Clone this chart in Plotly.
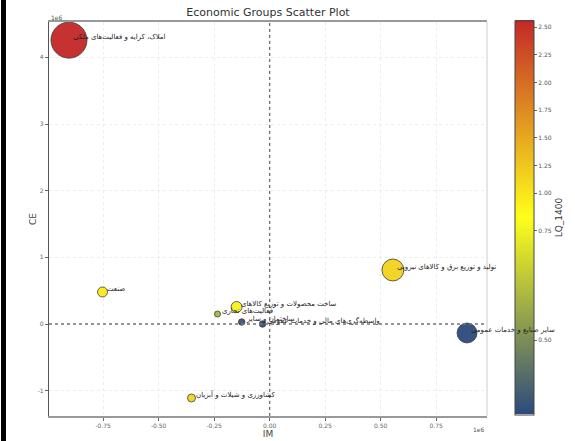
import plotly.graph_objects as go

# ---- data ----
labels = [
    "املاک، کرایه و فعالیت‌های ملکی",
    "صنعت",
    "ساخت محصولات و توزیع کالاهای",
    "فعالیت‌های تجاری",
    "ساختمان و سایر",
    "واسطه‌گری‌های مالی و خدمات عمومی",
    "تولید و توزیع برق و کالاهای نیرویی",
    "سایر صنایع و خدمات عمومی",
    "کشاورزی و شیلات و آبزیان",
]
im = [-904000, -753000, -149000, -235000, -126000, -32000, 555000, 889000, -352000]
ce = [4258000, 480000, 255000, 150000, 30000, 0, 810000, -135000, -1110000]
lq_1400 = [2.56, 0.95, 0.90, 0.60, 0.36, 0.35, 1.15, 0.33, 1.12]
employment = [130, 10, 12, 3.6, 4.2, 4.2, 48, 40, 6.4]

x_ticks = [-1.0e6, -0.75e6, -0.5e6, -0.25e6, 0.0, 0.25e6, 0.5e6, 0.75e6]
x_ticktext = ["-1.00", "-0.75", "-0.50", "-0.25", "0.00", "0.25", "0.50", "0.75"]
y_ticks = [-1e6, 0, 1e6, 2e6, 3e6, 4e6]
y_ticktext = ["-1", "0", "1", "2", "3", "4"]
cb_ticks = [0.50, 0.75, 1.00, 1.25, 1.50, 1.75, 2.00, 2.25, 2.50]

# ---- two-slope colour normalisation ----
vmin, vmax, vcenter = min(lq_1400), max(lq_1400), 0.78


def norm(v):
    if v < vcenter:
        return 0.5 * (v - vmin) / (vcenter - vmin)
    return 0.5 + 0.5 * (v - vcenter) / (vmax - vcenter)


cvals = [norm(v) for v in lq_1400]
cb_tickvals = [norm(v) for v in cb_ticks]
cb_ticktext = ["%.2f" % v for v in cb_ticks]

sizeref = 2 * max(employment) / (36 ** 2)

L, R, T, B = 49, 88, 22, 25
W, H = 575, 441
pw, ph = W - L - R, H - T - B

fig = go.Figure()
fig.add_trace(go.Scatter(
    x=im, y=ce, mode="markers",
    marker=dict(
        size=employment, sizemode="area", sizeref=sizeref,
        color=cvals, cmin=0, cmax=1,
        colorscale=[[0, "#2c4a7c"], [0.5, "#ffff1a"], [1, "#c32828"]],
        line=dict(color="#333333", width=0.8),
        opacity=0.95,
        colorbar=dict(
            x=1 + (515 - (W - R)) / pw, xanchor="left", xref="paper",
            y=0.5 + 1.5 / ph, yanchor="middle", len=(414 - 20) / ph, lenmode="fraction",
            ypad=0, xpad=0,
            thickness=19, outlinecolor="#444", outlinewidth=1,
            tickvals=cb_tickvals, ticktext=cb_ticktext,
            ticks="outside", ticklen=3, tickcolor="#666",
            tickfont=dict(size=6, color="#555", family="DejaVu Sans"),
            title=dict(text="LQ_1400", side="right",
                       font=dict(size=9, color="#333", family="DejaVu Sans")),
        ),
    ),
    showlegend=False,
    hoverinfo="skip",
))

annotations = []
for xi, yi, lab in zip(im, ce, labels):
    annotations.append(dict(
        x=xi, y=yi, xref="x", yref="y", text=lab, showarrow=False,
        xanchor="left", yanchor="bottom", xshift=2, yshift=-3,
        font=dict(size=7, color="#222", family="DejaVu Sans"),
    ))
annotations += [
    dict(x=0, y=1, xref="paper", yref="paper", text="1e6", showarrow=False,
         xanchor="left", yanchor="bottom", yshift=-1,
         font=dict(size=6, color="#555", family="DejaVu Sans")),
    dict(x=1, y=0, xref="paper", yref="paper", text="1e6", showarrow=False,
         xanchor="right", yanchor="top", yshift=-8,
         font=dict(size=6, color="#555", family="DejaVu Sans")),
    dict(x=-(L - 33) / pw, y=0.5, xref="paper", yref="paper", text="CE",
         showarrow=False, textangle=-90, xanchor="center", yanchor="middle",
         font=dict(size=9, color="#444", family="DejaVu Sans")),
]

shapes = [
    dict(type="line", xref="x", yref="paper", x0=0, x1=0, y0=0, y1=1,
         line=dict(color="#777", width=1.4, dash="dot")),
    dict(type="line", xref="paper", yref="y", x0=0, x1=1, y0=0, y1=0,
         line=dict(color="#777", width=1.4, dash="dot")),
    dict(type="line", xref="paper", yref="paper", x0=1, x1=1, y0=0, y1=1,
         line=dict(color="#cccccc", width=1)),
    dict(type="rect", xref="paper", yref="paper",
         x0=-(L - 1) / pw, x1=-(L - 6) / pw, y0=-B / ph, y1=1 + T / ph,
         fillcolor="black", line=dict(width=0), layer="above"),
]

fig.update_layout(
    width=W, height=H,
    margin=dict(l=L, r=R, t=T, b=B, autoexpand=False),
    paper_bgcolor="white", plot_bgcolor="white",
    font=dict(family="DejaVu Sans"),
    title=dict(text="Economic Groups Scatter Plot", x=(L + pw / 2) / W,
               xanchor="center", y=1 - 12 / H, yanchor="middle",
               font=dict(size=11, color="#333")),
    xaxis=dict(
        range=[-994000, 979000], tickvals=x_ticks, ticktext=x_ticktext,
        showgrid=True, gridcolor="#ececec", griddash="dot", gridwidth=1,
        zeroline=False, showline=True, linecolor="#999", linewidth=1.5,
        mirror=True, ticks="outside", ticklen=3, tickcolor="#666",
        tickfont=dict(size=6, color="#666"), automargin=False,
        title=dict(text="IM", font=dict(size=9, color="#444"), standoff=1),
    ),
    yaxis=dict(
        range=[-1380000, 4530000], tickvals=y_ticks, ticktext=y_ticktext,
        showgrid=True, gridcolor="#ececec", griddash="dot", gridwidth=1,
        zeroline=False, showline=True, linecolor="#555", linewidth=1.2,
        ticks="outside", ticklen=3, tickcolor="#666",
        tickfont=dict(size=6, color="#666"), automargin=False,
    ),
    annotations=annotations,
    shapes=shapes,
)

fig.write_html(
    "out.html",
    config={"displayModeBar": False},
    post_script="document.body.style.margin='0';document.body.style.overflow='hidden';",
)
